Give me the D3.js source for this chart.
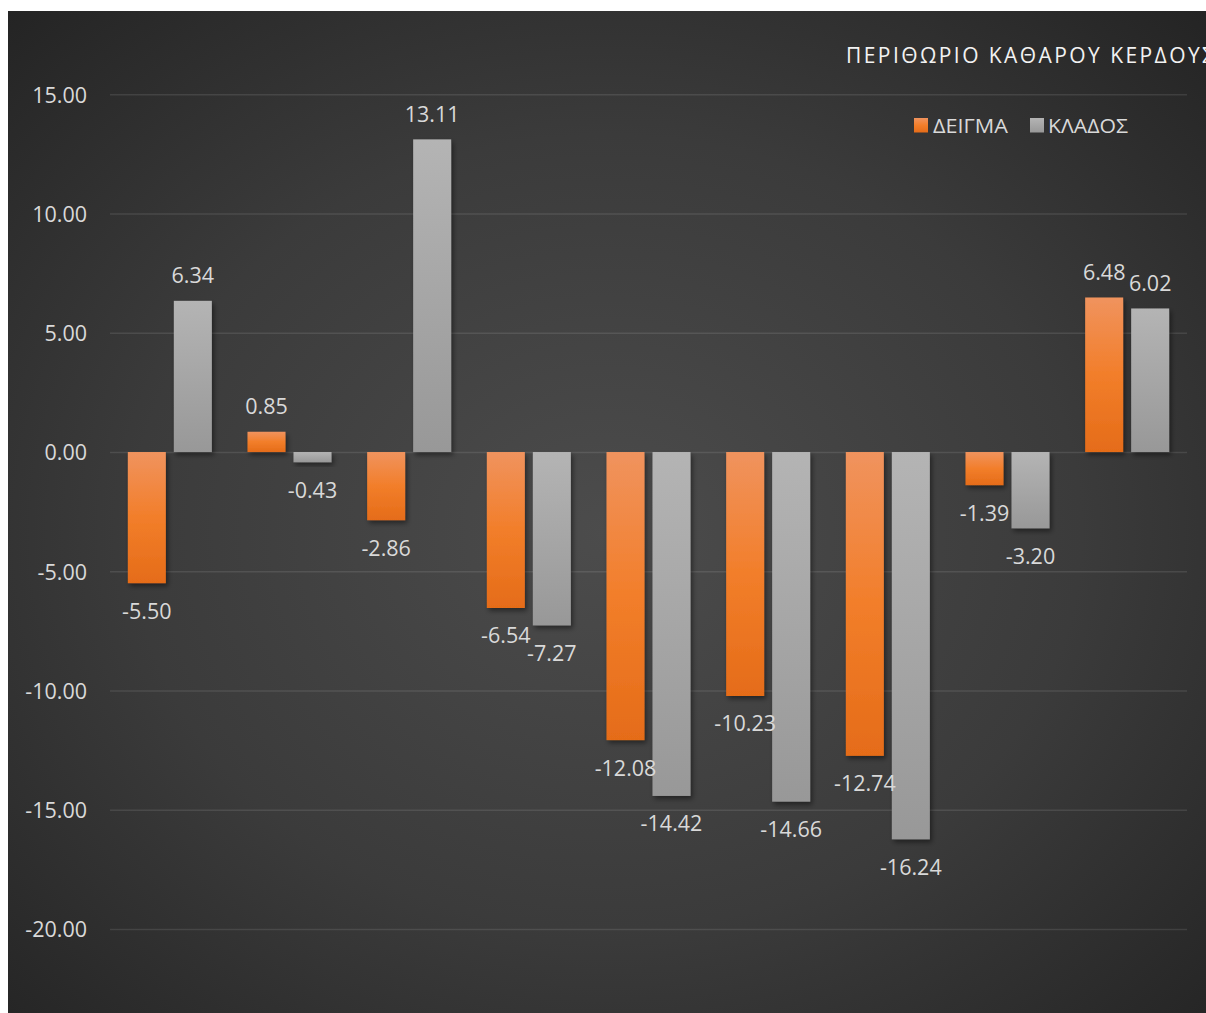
<!DOCTYPE html>
<html>
<head>
<meta charset="utf-8">
<script src="https://cdn.jsdelivr.net/npm/d3@7"></script>
<style>
html,body{margin:0;padding:0;background:#ffffff;}
svg{display:block;}
</style>
</head>
<body>
<svg id="chart" width="1206" height="1013"></svg>
<script>
// ---- data ----
const categories = ["1", "2", "3", "4", "5", "6", "7", "8", "9"];
const seriesNames = ["ΔΕΙΓΜΑ", "ΚΛΑΔΟΣ"];
const deigma = [-5.50, 0.85, -2.86, -6.54, -12.08, -10.23, -12.74, -1.39, 6.48];
const klados = [6.34, -0.43, 13.11, -7.27, -14.42, -14.66, -16.24, -3.20, 6.02];
const yTicks = [-20, -15, -10, -5, 0, 5, 10, 15];
const title = "ΠΕΡΙΘΩΡΙΟ ΚΑΘΑΡΟΥ ΚΕΡΔΟΥΣ";

const seriesValues = [deigma, klados];
const rows = categories.map((c, i) => ({cat: c, vals: seriesNames.map((s, j) => ({series: s, idx: j, value: seriesValues[j][i]}))}));

const svg = d3.select("#chart");
const FONT = "'Open Sans', 'Noto Sans', sans-serif";

const defs = svg.append("defs");
const bg = defs.append("radialGradient").attr("id", "bgGrad")
  .attr("cx", "50%").attr("cy", "52%").attr("r", "72%");
bg.append("stop").attr("offset", "0%").attr("stop-color", "#4c4c4c");
bg.append("stop").attr("offset", "55%").attr("stop-color", "#3b3b3b");
bg.append("stop").attr("offset", "100%").attr("stop-color", "#242424");

const g0 = defs.append("linearGradient").attr("id", "grad0").attr("x1", 0).attr("y1", 0).attr("x2", 0).attr("y2", 1);
g0.append("stop").attr("offset", "0%").attr("stop-color", "#f0935e");
g0.append("stop").attr("offset", "50%").attr("stop-color", "#f27e2a");
g0.append("stop").attr("offset", "100%").attr("stop-color", "#e56c19");
const g1 = defs.append("linearGradient").attr("id", "grad1").attr("x1", 0).attr("y1", 0).attr("x2", 0).attr("y2", 1);
g1.append("stop").attr("offset", "0%").attr("stop-color", "#b4b4b4");
g1.append("stop").attr("offset", "100%").attr("stop-color", "#989898");

const sh = defs.append("filter").attr("id", "shadow").attr("x", "-20%").attr("y", "-20%").attr("width", "160%").attr("height", "160%");
sh.append("feDropShadow").attr("dx", 2).attr("dy", 3).attr("stdDeviation", 2.5).attr("flood-color", "#000").attr("flood-opacity", 0.45);

// background
svg.append("rect").attr("x", 8).attr("y", 11).attr("width", 1198).attr("height", 1002).attr("fill", "url(#bgGrad)");

// scales
const plotLeft = 110, plotRight = 1187;
const y = d3.scaleLinear().domain([-20, 15]).range([929, 94.3]);
const x0 = d3.scaleBand().domain(categories).range([plotLeft, plotRight]).paddingInner(0.298).paddingOuter(0.149);
const x1 = d3.scaleBand().domain(seriesNames).range([0, x0.bandwidth()]).paddingInner(0.174).paddingOuter(0);

const loc = d3.formatLocale({decimal: ".", thousands: ",", grouping: [3], currency: ["", ""], minus: "-"});
const fmt = loc.format(".2f");

// gridlines + y axis
const yAxis = d3.axisLeft(y).tickValues(yTicks).tickFormat(fmt).tickSize(-(plotRight - plotLeft)).tickPadding(23);
const ax = svg.append("g").attr("transform", `translate(${plotLeft},0)`).call(yAxis);
ax.select(".domain").remove();
ax.selectAll(".tick line").attr("stroke", "#ffffff").attr("stroke-opacity", 0.1).attr("stroke-width", 1.6);
ax.selectAll(".tick text").attr("fill", "#d9d9d9").attr("font-family", FONT).attr("font-size", "21.5px").attr("dy", "0.36em");

// bars
const groups = svg.append("g").selectAll("g").data(rows).join("g")
  .attr("transform", d => `translate(${x0(d.cat)},0)`);
groups.selectAll("rect").data(d => d.vals).join("rect")
  .attr("x", d => x1(d.series))
  .attr("width", x1.bandwidth())
  .attr("y", d => Math.min(y(d.value), y(0)))
  .attr("height", d => Math.abs(y(d.value) - y(0)))
  .attr("fill", d => `url(#grad${d.idx})`)
  .attr("filter", "url(#shadow)");

// labels
groups.selectAll("text").data(d => d.vals).join("text")
  .attr("x", d => x1(d.series) + x1.bandwidth() / 2)
  .attr("y", d => d.value >= 0 ? y(d.value) - 17.5 : y(d.value) + 35.5)
  .attr("text-anchor", "middle")
  .attr("fill", "#d9d9d9")
  .attr("font-family", FONT)
  .attr("font-size", "21.5px")
  .text(d => fmt(d.value));

// title (cut off at the right edge, as in the reference)
svg.append("text").attr("x", 846).attr("y", 63)
  .attr("fill", "#f2f2f2").attr("font-family", FONT).attr("font-size", "21px")
  .attr("textLength", 368).attr("lengthAdjust", "spacing")
  .text(title);

// legend
const legX = [914, 1030];
const leg = svg.append("g").selectAll("g").data(seriesNames).join("g")
  .attr("transform", (d, i) => `translate(${legX[i]},118)`);
leg.append("rect").attr("width", 14).attr("height", 14.5).attr("fill", (d, i) => `url(#grad${i})`);
leg.append("text").attr("x", (d, i) => i === 0 ? 19 : 18).attr("y", 15)
  .attr("fill", "#d9d9d9").attr("font-family", FONT).attr("font-size", "20px")
  .attr("textLength", (d, i) => i === 0 ? 75 : 80).attr("lengthAdjust", "spacingAndGlyphs")
  .text(d => d);
</script>
</body>
</html>
